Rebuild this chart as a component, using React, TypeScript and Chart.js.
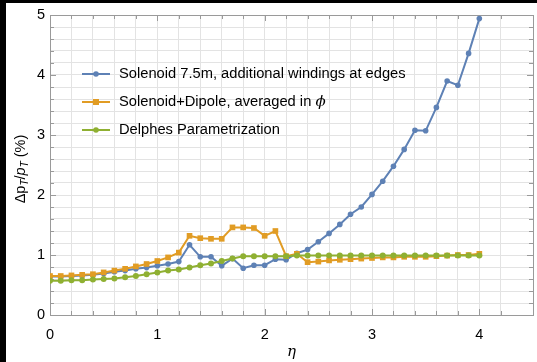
import React, { useEffect, useRef } from 'react';
import { Chart, registerables } from 'chart.js';

Chart.register(...registerables);

const eta = [0, 0.1, 0.2, 0.3, 0.4, 0.5, 0.6, 0.7, 0.8, 0.9, 1.0, 1.1, 1.2, 1.3, 1.4, 1.5, 1.6, 1.7, 1.8, 1.9, 2.0,
  2.1, 2.2, 2.3, 2.4, 2.5, 2.6, 2.7, 2.8, 2.9, 3.0, 3.1, 3.2, 3.3, 3.4, 3.5, 3.6, 3.7, 3.8, 3.9, 4.0];

const solenoid = [0.64, 0.64, 0.65, 0.66, 0.67, 0.69, 0.72, 0.74, 0.77, 0.79, 0.82, 0.85, 0.89, 1.17, 0.97, 0.97, 0.82,
  0.94, 0.78, 0.83, 0.83, 0.93, 0.92, 1.03, 1.09, 1.22, 1.36, 1.51, 1.68, 1.80, 2.01, 2.23, 2.48, 2.76, 3.08, 3.07,
  3.46, 3.90, 3.83, 4.36, 4.94];

const dipole = [0.65, 0.65, 0.66, 0.67, 0.68, 0.71, 0.74, 0.77, 0.81, 0.85, 0.90, 0.96, 1.04, 1.32, 1.28, 1.27, 1.27,
  1.46, 1.46, 1.45, 1.32, 1.40, 0.98, 1.02, 0.88, 0.89, 0.91, 0.92, 0.93, 0.94, 0.95, 0.96, 0.96, 0.97, 0.97, 0.97,
  0.98, 0.99, 1.00, 1.00, 1.02];

const delphes = [0.57, 0.57, 0.58, 0.58, 0.59, 0.60, 0.61, 0.63, 0.65, 0.68, 0.71, 0.74, 0.76, 0.79, 0.83, 0.86, 0.90,
  0.94, 0.98, 0.98, 0.98, 0.98, 0.98, 0.99, 0.99, 0.99, 0.99, 0.99, 0.99, 0.99, 0.99, 0.99, 0.99, 0.99, 0.99, 0.99,
  0.99, 0.99, 0.99, 0.99, 0.99];

const seriesLabels = [
  'Solenoid 7.5m, additional windings at edges',
  'Solenoid+Dipole, averaged in ϕ',
  'Delphes Parametrization',
];

const xTickLabels = ['0', '1', '2', '3', '4'];
const yTickLabels = ['0', '1', '2', '3', '4', '5'];

const FONT = '"Liberation Sans", Arial, Helvetica, sans-serif';
const BLUE = '#5E81B5';
const ORANGE = '#E19C24';
const GREEN = '#8FB032';

const isInt = (v: number) => Math.abs(v - Math.round(v)) < 1e-6;

const framePlugin = {
  id: 'frame',
  beforeDatasetsDraw(chart: any) {
    const { ctx, chartArea } = chart;
    const { left, right, top, bottom } = chartArea;
    ctx.save();
    ctx.strokeStyle = '#9a9a9a';
    ctx.lineWidth = 1;
    ctx.beginPath();
    const xs = chart.scales.x;
    const ys = chart.scales.y;
    xs.ticks.forEach((t: any) => {
      const px = Math.round(xs.getPixelForValue(t.value)) + 0.5;
      const len = isInt(t.value) ? 6 : 4;
      ctx.moveTo(px, bottom);
      ctx.lineTo(px, bottom - len);
      ctx.moveTo(px, top);
      ctx.lineTo(px, top + len);
    });
    ys.ticks.forEach((t: any) => {
      const py = Math.round(ys.getPixelForValue(t.value)) + 0.5;
      const len = isInt(t.value) ? 6 : 4;
      ctx.moveTo(left, py);
      ctx.lineTo(left + len, py);
      ctx.moveTo(right, py);
      ctx.lineTo(right - len, py);
    });
    ctx.stroke();
    ctx.strokeRect(Math.round(left) + 0.5, Math.round(top) + 0.5, Math.round(right - left), Math.round(bottom - top));
    ctx.restore();
  },
};

const legendPlugin = {
  id: 'insideLegend',
  afterDatasetsDraw(chart: any) {
    const { ctx } = chart;
    ctx.save();
    const x0 = 76;
    const x1 = 104;
    const tx = 113;
    const ys = [71, 99, 127];
    chart.data.datasets.forEach((ds: any, i: number) => {
      const y = ys[i];
      ctx.strokeStyle = ds.borderColor;
      ctx.lineWidth = 2;
      ctx.beginPath();
      ctx.moveTo(x0, y);
      ctx.lineTo(x1, y);
      ctx.stroke();
      ctx.fillStyle = ds.borderColor;
      const mx = (x0 + x1) / 2;
      if (ds.pointStyle === 'rect') {
        ctx.fillRect(mx - 3, y - 3, 6, 6);
      } else {
        ctx.beginPath();
        ctx.arc(mx, y, 2.8, 0, Math.PI * 2);
        ctx.fill();
      }
      ctx.fillStyle = '#000';
      ctx.textBaseline = 'middle';
      ctx.textAlign = 'left';
      const label: string = ds.label;
      if (label.endsWith('ϕ')) {
        const main = label.slice(0, -1);
        ctx.font = `14.7px ${FONT}`;
        ctx.fillText(main, tx, y);
        const w = ctx.measureText(main).width;
        ctx.font = `italic 15px "DejaVu Serif", serif`;
        ctx.fillText('ϕ', tx + w, y);
      } else {
        ctx.font = `14.7px ${FONT}`;
        ctx.fillText(label, tx, y);
      }
    });
    ctx.restore();
  },
};

const titlesPlugin = {
  id: 'axisTitles',
  afterDraw(chart: any) {
    const { ctx, chartArea } = chart;
    ctx.save();
    ctx.fillStyle = '#000';
    // x title
    ctx.font = `italic 15px "DejaVu Serif", serif`;
    ctx.textAlign = 'center';
    ctx.textBaseline = 'middle';
    ctx.fillText('η', (chartArea.left + chartArea.right) / 2, 349);
    // y title with subscripts
    const parts = [
      { t: 'Δp', sub: false, it: false },
      { t: 'T', sub: true, it: true },
      { t: '/', sub: false, it: false },
      { t: 'p', sub: false, it: true },
      { t: 'T', sub: true, it: true },
      { t: ' (%)', sub: false, it: false },
    ];
    const fontFor = (p: any) => `${p.it ? 'italic ' : ''}${p.sub ? 10 : 14.5}px ${FONT}`;
    let total = 0;
    parts.forEach((p) => {
      ctx.font = fontFor(p);
      total += ctx.measureText(p.t).width;
    });
    ctx.translate(14, (chartArea.top + chartArea.bottom) / 2 + 4);
    ctx.rotate(-Math.PI / 2);
    ctx.textAlign = 'left';
    ctx.textBaseline = 'alphabetic';
    let cx = -total / 2;
    parts.forEach((p) => {
      ctx.font = fontFor(p);
      ctx.fillText(p.t, cx, p.sub ? 8 : 5);
      cx += ctx.measureText(p.t).width;
    });
    ctx.restore();
  },
};

export default function App() {
  const ref = useRef<HTMLCanvasElement>(null);

  useEffect(() => {
    if (!ref.current) return;
    const mk = (vals: number[]) => eta.map((x, i) => ({ x, y: vals[i] }));
    const chart = new Chart(ref.current, {
      type: 'line',
      data: {
        datasets: [
          {
            label: seriesLabels[0],
            data: mk(solenoid),
            borderColor: BLUE,
            backgroundColor: BLUE,
            borderWidth: 2,
            pointRadius: 2.8,
            pointStyle: 'circle',
            pointBorderWidth: 0,
            order: 3,
          },
          {
            label: seriesLabels[1],
            data: mk(dipole),
            borderColor: ORANGE,
            backgroundColor: ORANGE,
            borderWidth: 2,
            pointRadius: 4,
            pointStyle: 'rect',
            pointBorderWidth: 0,
            order: 2,
          },
          {
            label: seriesLabels[2],
            data: mk(delphes),
            borderColor: GREEN,
            backgroundColor: GREEN,
            borderWidth: 2,
            pointRadius: 3,
            pointStyle: 'circle',
            pointBorderWidth: 0,
            order: 1,
          },
        ],
      },
      options: {
        animation: false,
        responsive: false,
        devicePixelRatio: 1,
        layout: { padding: { top: 12, right: 2, left: 0, bottom: 0 } },
        plugins: {
          legend: { display: false },
          tooltip: { enabled: false },
        },
        scales: {
          x: {
            type: 'linear',
            min: 0,
            max: 4.5,
            afterFit: (s: any) => {
              s.height = 47;
              s.paddingLeft = 0;
              s.paddingRight = 0;
            },
            border: { display: false },
            grid: { color: '#e3e3e3', lineWidth: 1, drawTicks: false },
            ticks: {
              stepSize: 0.2,
              autoSkip: false,
              maxRotation: 0,
              padding: 11,
              color: '#000',
              font: { family: FONT, size: 14.5 },
              callback: (v: any) => (isInt(Number(v)) ? xTickLabels[Math.round(Number(v))] ?? '' : ''),
            },
          },
          y: {
            type: 'linear',
            min: 0,
            max: 5,
            afterFit: (s: any) => {
              s.width = 44;
              s.paddingTop = 0;
              s.paddingBottom = 0;
            },
            border: { display: false },
            grid: { color: '#e3e3e3', lineWidth: 1, drawTicks: false },
            ticks: {
              stepSize: 0.2,
              autoSkip: false,
              padding: 5,
              color: '#000',
              font: { family: FONT, size: 14.5 },
              callback: (v: any) => (isInt(Number(v)) ? yTickLabels[Math.round(Number(v))] ?? '' : ''),
            },
          },
        },
      },
      plugins: [framePlugin, legendPlugin, titlesPlugin],
    });
    return () => chart.destroy();
  }, []);

  return (
    <div style={{ position: 'absolute', left: 0, top: 0, width: 537, height: 362, background: '#000', overflow: 'hidden' }}>
      <canvas
        ref={ref}
        width={531}
        height={359}
        style={{ position: 'absolute', left: 6, top: 3, width: 531, height: 359, background: '#fff' }}
      />
    </div>
  );
}
